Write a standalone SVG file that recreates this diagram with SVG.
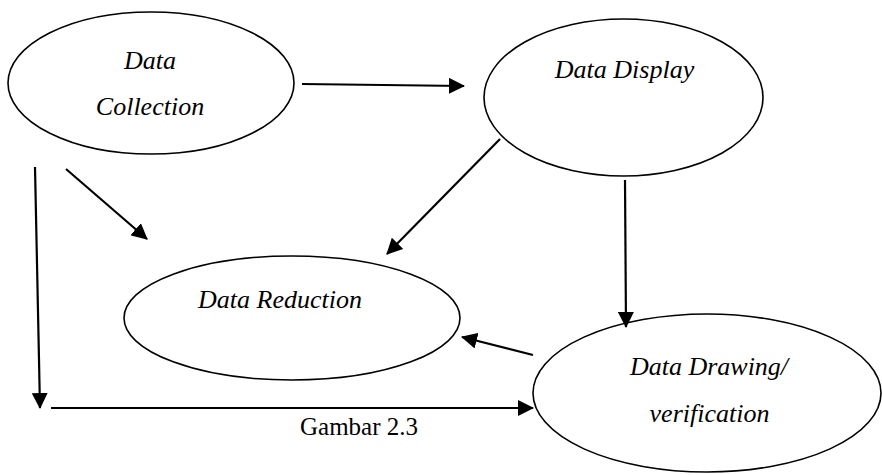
<svg xmlns="http://www.w3.org/2000/svg" width="882" height="475" viewBox="0 0 882 475">
  <style>
    .node ellipse { fill: #ffffff; stroke: #000000; stroke-width: 1.6; }
    .label { font-family: "Liberation Serif", "Times New Roman", serif; font-style: italic; font-size: 26px; fill: #000000; text-anchor: middle; }
    .caption { font-family: "Liberation Serif", "Times New Roman", serif; font-size: 25px; fill: #000000; }
    .edge { stroke: #000000; stroke-width: 2.2; fill: none; marker-end: url(#head); }
  </style>
  <defs>
    <marker id="head" markerUnits="userSpaceOnUse" markerWidth="16" markerHeight="16" viewBox="0 0 16 16" refX="15" refY="8" orient="auto">
      <path d="M0,0 L16,8 L0,16 Z" fill="#000000"/>
    </marker>
  </defs>
  <rect width="882" height="475" fill="#ffffff"/>

  <g id="data-collection" class="node">
    <ellipse cx="151" cy="83" rx="143" ry="71"/>
    <text class="label" x="150" y="69">Data</text>
    <text class="label" x="150" y="115">Collection</text>
  </g>

  <g id="data-display" class="node">
    <ellipse cx="623.5" cy="97.5" rx="139.5" ry="78.5"/>
    <text class="label" x="624.5" y="78">Data Display</text>
  </g>

  <g id="data-reduction" class="node">
    <ellipse cx="292" cy="318" rx="168" ry="62"/>
    <text class="label" x="280" y="308">Data Reduction</text>
  </g>

  <g id="data-drawing" class="node">
    <ellipse cx="707" cy="393" rx="174" ry="79"/>
    <text class="label" x="709" y="375">Data Drawing/</text>
    <text class="label" x="709.5" y="422">verification</text>
  </g>

  <g id="connectors">
    <line class="edge" x1="302" y1="84" x2="464" y2="86"/>
    <line class="edge" x1="500" y1="139" x2="387" y2="254"/>
    <line class="edge" x1="66" y1="169" x2="147" y2="239"/>
    <line class="edge" x1="35" y1="167" x2="40" y2="408"/>
    <line class="edge" x1="51" y1="408" x2="533" y2="408"/>
    <line class="edge" x1="625" y1="180" x2="626" y2="327"/>
    <line class="edge" x1="533" y1="355" x2="462" y2="337"/>
  </g>

  <text id="caption" class="caption" x="300" y="435">Gambar 2.3</text>
</svg>
